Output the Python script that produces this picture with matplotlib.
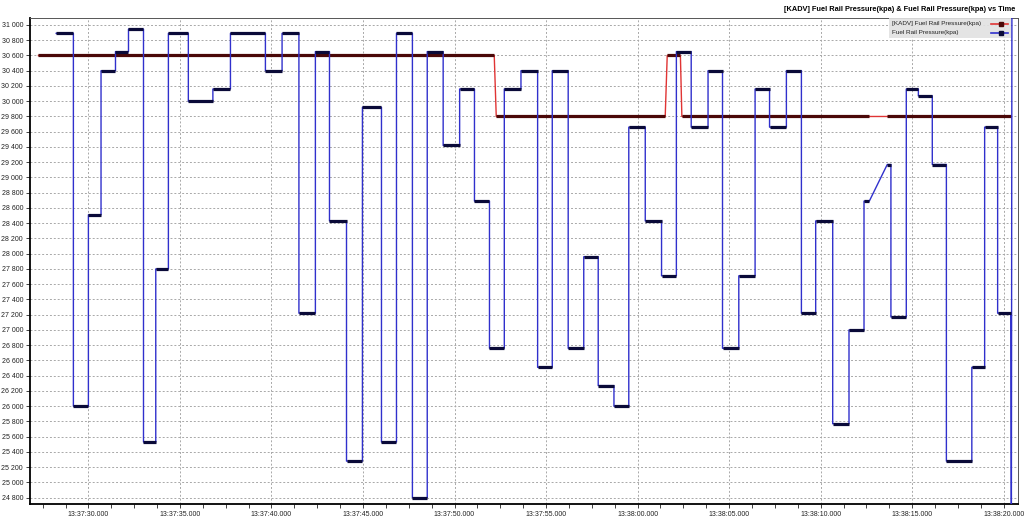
import matplotlib.pyplot as plt
from matplotlib.ticker import MultipleLocator, FuncFormatter
from matplotlib.patches import Rectangle

# time is seconds after 13:37:00
# [KADV] Fuel Rail Pressure(kpa): flat runs (start, end, value)
kadv_start = [27.27, 52.28, 61.62, 62.42, 73.64]
kadv_end = [52.17, 61.51, 62.34, 72.66, 80.39]
kadv_value = [30600, 29800, 30600, 29800, 29800]

# Fuel Rail Pressure(kpa): flat runs (start, end, value)
frp_start = [28.24, 29.18, 30.00, 30.69, 31.48, 32.19, 33.01, 33.68, 34.37, 35.46,
             36.80, 37.76, 39.67, 40.58, 41.50, 42.40, 43.17, 44.10, 44.97, 46.01,
             46.83, 47.70, 48.51, 49.38, 50.28, 51.09, 51.91, 52.72, 53.63, 54.54,
             55.34, 56.21, 57.06, 57.85, 58.71, 59.52, 60.42, 61.31, 62.12, 62.93,
             63.85, 64.64, 65.53, 66.42, 67.21, 68.13, 68.95, 69.73, 70.66, 71.55,
             72.37, 73.64, 73.84, 74.68, 75.34, 76.10, 76.87, 78.26, 78.96, 79.67]
frp_end = [29.18, 30.00, 30.69, 31.48, 32.19, 33.01, 33.68, 34.37, 35.46, 36.80,
           37.76, 39.67, 40.58, 41.50, 42.40, 43.17, 44.10, 44.97, 46.01, 46.83,
           47.70, 48.51, 49.38, 50.28, 51.09, 51.91, 52.72, 53.63, 54.54, 55.34,
           56.21, 57.06, 57.85, 58.71, 59.52, 60.42, 61.31, 62.12, 62.93, 63.85,
           64.64, 65.53, 66.42, 67.21, 68.13, 68.95, 69.73, 70.66, 71.55, 72.37,
           72.66, 73.84, 74.68, 75.34, 76.10, 76.87, 78.26, 78.96, 79.67, 80.39]
frp_value = [30890, 26000, 28510, 30400, 30650, 30945, 25530, 27800, 30890, 30000,
             30160, 30890, 30400, 30890, 27220, 30650, 28430, 25280, 29920, 25530,
             30890, 24800, 30650, 29420, 30160, 28690, 26760, 30160, 30400, 26510,
             30400, 26760, 27960, 26270, 26000, 29660, 28430, 27710, 30650, 29660,
             30400, 26760, 27710, 30160, 29660, 30400, 27220, 28430, 25770, 27000,
             28690, 29170, 27170, 30160, 30070, 29170, 25280, 26510, 29660, 27220]
# last samples run off the scale
frp_tail_time = [80.42, 80.45]
frp_tail_value = [24600, 31200]

title = "[KADV] Fuel Rail Pressure(kpa) & Fuel Rail Pressure(kpa) vs Time"
label_kadv = "[KADV] Fuel Rail Pressure(kpa)"
label_frp = "Fuel Rail Pressure(kpa)"

plt.rcParams['font.family'] = ['Liberation Sans', 'DejaVu Sans']

red_line, red_mark = '#e03434', '#4a0808'
blue_line, blue_mark = '#3030cc', '#0a0a38'


def run_path(starts, ends, values):
    xs, ys = [], []
    for s, e, v in zip(starts, ends, values):
        xs += [s, e]
        ys += [v, v]
    return xs, ys


def time_label(t, pos):
    m = 37 + int(t // 60)
    s = t - 60 * int(t // 60)
    return "13:%02d:%06.3f" % (m, s)


fig = plt.figure(figsize=(10.24, 5.21), dpi=100)
ax = fig.add_axes([0.0293, 0.0326, 0.9648, 0.9329])

# red series
xs, ys = run_path(kadv_start, kadv_end, kadv_value)
ax.plot(xs, ys, color=red_line, lw=1.0, zorder=3)
ax.hlines(kadv_value, kadv_start, kadv_end, color=red_mark, lw=2.3, zorder=4)

# blue series
xs, ys = run_path(frp_start, frp_end, frp_value)
xs += frp_tail_time
ys += frp_tail_value
ax.plot(xs, ys, color=blue_line, lw=1.0, zorder=5)
ax.hlines(frp_value, frp_start, frp_end, color=blue_mark, lw=2.3, zorder=6)

ax.set_xlim(26.81, 80.78)
ax.set_ylim(24717, 31092)

ax.xaxis.set_major_locator(MultipleLocator(5))
ax.xaxis.set_minor_locator(MultipleLocator(1.25))
ax.xaxis.set_major_formatter(FuncFormatter(time_label))
ax.yaxis.set_major_locator(MultipleLocator(200))
ax.yaxis.set_major_formatter(FuncFormatter(lambda v, p: "{:,}".format(int(v)).replace(',', ' ')))

ax.tick_params(axis='both', which='major', labelsize=5, length=3, width=0.6, pad=2, colors='#222222')
ax.tick_params(axis='x', which='minor', length=3, width=0.6, color='#222222')
ax.grid(True, which='major', color='#a8a8a8', linestyle=(0, (2, 2)), lw=0.7)

for side in ['left', 'bottom']:
    ax.spines[side].set_linewidth(1.3)
    ax.spines[side].set_color('black')
for side in ['top', 'right']:
    ax.spines[side].set_linewidth(0.7)
    ax.spines[side].set_color('#555555')

fig.text(0.992, 0.981, title, ha='right', va='center', fontsize=5.3, fontweight='bold')

# legend box: text on the left, line sample on the right
ax.add_patch(Rectangle((0.8694, 0.959), 0.1235, 0.041, transform=ax.transAxes,
                       facecolor='#e2e2e2', edgecolor='none', alpha=0.9, zorder=10))
for row_y, label, lc, mc in [(0.9885, label_kadv, red_line, red_mark),
                             (0.9700, label_frp, blue_line, blue_mark)]:
    ax.text(0.8725, row_y, label, transform=ax.transAxes, fontsize=4.6,
            ha='left', va='center', color='#222222', zorder=11)
    ax.plot([0.9727, 0.9899], [row_y, row_y], transform=ax.transAxes, color=lc,
            lw=1.2, zorder=11, clip_on=False)
    ax.plot([0.9828], [row_y], transform=ax.transAxes, marker='s', markersize=2.5,
            color=mc, zorder=12, clip_on=False)

fig.savefig('out.png', dpi=100)
